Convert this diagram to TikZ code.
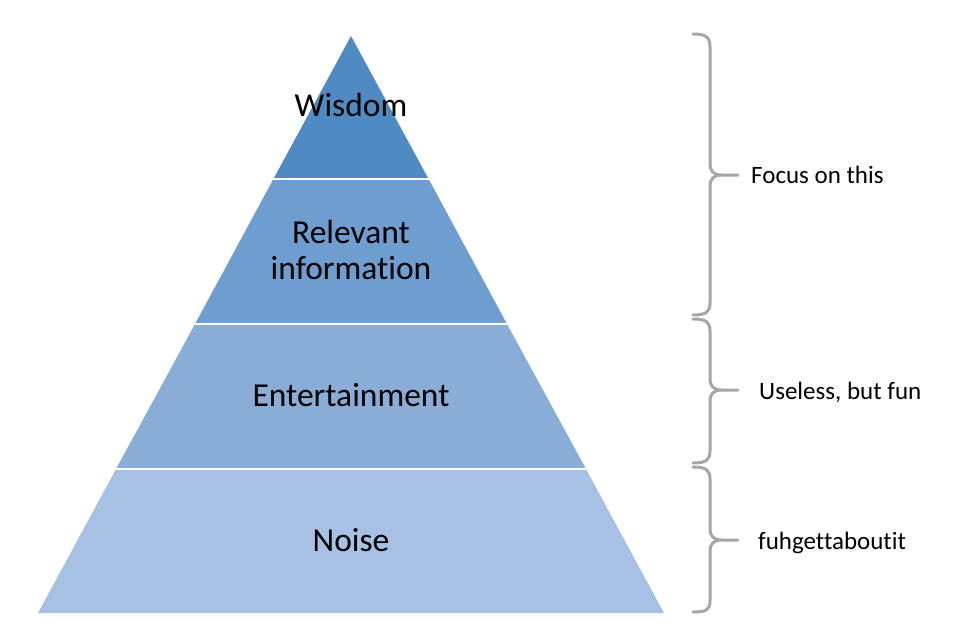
\documentclass[tikz,border=0pt]{standalone}
\usepackage{fontspec}
\setmainfont{Carlito}[Ligatures={NoCommon,NoRare,NoContextual}]
\definecolor{tierA}{RGB}{80,138,195}
\definecolor{tierB}{RGB}{110,157,208}
\definecolor{tierC}{RGB}{137,173,215}
\definecolor{tierD}{RGB}{166,193,228}
\definecolor{bracegray}{RGB}{166,166,166}
\tikzset{
  tierlabel/.style={anchor=base, font=\fontsize{33.5}{40}\selectfont, text=black, inner sep=0pt},
  sidelabel/.style={anchor=base west, font=\fontsize{25}{30}\selectfont, text=black, inner sep=0pt},
  bracestyle/.style={draw=bracegray, line width=3pt, line cap=round, line join=round},
  divider/.style={draw=white, line width=1.2pt}
}
\begin{document}
\begin{tikzpicture}[x=1pt,y=-1pt]
\useasboundingbox (0,0) rectangle (961,633);
% tiers
\fill[tierD] (38,613) -- (116,469) -- (586,469) -- (664,613) -- cycle;
\fill[tierC] (116,469) -- (195,324) -- (507,324) -- (586,469) -- cycle;
\fill[tierB] (195,324) -- (273.4,179) -- (428.6,179) -- (507,324) -- cycle;
\fill[tierA] (273.4,179) -- (351,36) -- (428.6,179) -- cycle;
\draw[divider] (116,469) -- (586,469);
\draw[divider] (195,324) -- (507,324);
\draw[divider] (273.4,179) -- (428.6,179);
% tier labels
\node[tierlabel] (wisdom) at (351,116) {Wisdom};
\node[tierlabel] (relevant) at (351,243) {Relevant};
\node[tierlabel] (information) at (351,279) {information};
\node[tierlabel] (entertainment) at (351,406) {Entertainment};
\node[tierlabel] (noise) at (351,551) {Noise};
% braces
\draw[bracestyle] (693,34) .. controls (706,34) and (710,37) .. (710,47)
  -- (710,163) .. controls (710,171) and (713,175) .. (722,175) -- (738,175)
  (722,175) .. controls (713,175) and (710,179) .. (710,187)
  -- (710,303) .. controls (710,312) and (706,315) .. (693,315);
\draw[bracestyle] (693,319) .. controls (706,319) and (710,322) .. (710,331)
  -- (710,378) .. controls (710,386) and (713,390) .. (722,390) -- (738,390)
  (722,390) .. controls (713,390) and (710,394) .. (710,402)
  -- (710,451) .. controls (710,460) and (706,463) .. (693,463);
\draw[bracestyle] (693,467) .. controls (706,467) and (710,470) .. (710,479)
  -- (710,528) .. controls (710,536) and (713,540) .. (722,540) -- (738,540)
  (722,540) .. controls (713,540) and (710,544) .. (710,552)
  -- (710,601) .. controls (710,610) and (706,612) .. (693,612);
% side labels
\node[sidelabel] (focus) at (751,183) {Focus on this};
\node[sidelabel] (useless) at (759,399) {Useless, but fun};
\node[sidelabel] (fuhget) at (758,549) {fuhgettaboutit};
\end{tikzpicture}
\end{document}
